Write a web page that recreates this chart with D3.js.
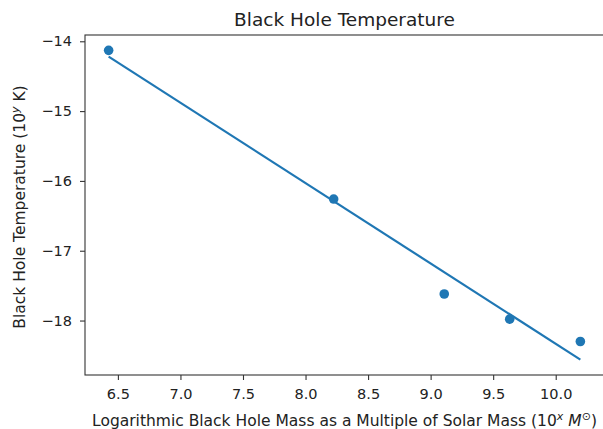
<!DOCTYPE html>
<html>
<head>
<meta charset="utf-8">
<script src="https://cdn.jsdelivr.net/npm/d3@7"></script>
<style>
  body { margin: 0; background: #fff; }
  svg { font-family: "DejaVu Sans", sans-serif; }
</style>
</head>
<body>
<div id="chart"></div>
<script>
// measured points
const massLog = [6.426, 8.225, 9.109, 9.632, 10.197];
const tempLog = [-14.13, -16.26, -17.62, -17.98, -18.30];
// fitted line, read at its two ends
const fitX = [6.426, 10.197];
const fitY = [-14.22, -18.56];
const xTicks = [6.5, 7.0, 7.5, 8.0, 8.5, 9.0, 9.5, 10.0];
const yTicks = [-14, -15, -16, -17, -18];

const width = 603, height = 429;
const blue = "#1f77b4";
const plotL = 85, plotR = 604, plotT = 35, plotB = 375;

const svg = d3.select("#chart")
  .append("svg")
  .attr("width", width)
  .attr("height", height);

const x = d3.scaleLinear().domain([6.237, 10.386]).range([plotL, plotR]);
const y = d3.scaleLinear().domain([-18.78, -13.91]).range([plotB, plotT]);

const fmtX = d => d.toFixed(1);
const fmtY = d => "\u2212" + Math.abs(d);

const xAxis = svg.append("g")
  .attr("transform", `translate(0,${plotB})`)
  .call(d3.axisBottom(x).tickValues(xTicks).tickFormat(fmtX).tickSizeOuter(0).tickSize(5).tickPadding(9));
const yAxis = svg.append("g")
  .attr("transform", `translate(${plotL},0)`)
  .call(d3.axisLeft(y).tickValues(yTicks).tickFormat(fmtY).tickSizeOuter(0).tickSize(5).tickPadding(8));

[xAxis, yAxis].forEach(g => {
  g.select(".domain").remove();
  g.selectAll("line").attr("stroke", "#333").attr("stroke-width", 1.1);
  g.selectAll("text")
    .attr("fill", "#222")
    .style("font-size", "14.5px")
    .style("font-family", "DejaVu Sans");
});

// frame (right side falls off the canvas, as in the original)
svg.append("rect")
  .attr("x", plotL).attr("y", plotT)
  .attr("width", plotR + 3 - plotL).attr("height", plotB - plotT)
  .attr("fill", "none")
  .attr("stroke", "#333")
  .attr("stroke-width", 1.1);

// fit line
const line = d3.line().x(d => x(d[0])).y(d => y(d[1]));
svg.append("path")
  .datum(d3.zip(fitX, fitY))
  .attr("d", line)
  .attr("fill", "none")
  .attr("stroke", blue)
  .attr("stroke-width", 2.2);

// points
svg.selectAll("circle.pt")
  .data(d3.zip(massLog, tempLog))
  .enter()
  .append("circle")
  .attr("class", "pt")
  .attr("cx", d => x(d[0]))
  .attr("cy", d => y(d[1]))
  .attr("r", 4.8)
  .attr("fill", blue);

// title
svg.append("text")
  .attr("x", (plotL + plotR) / 2)
  .attr("y", 26)
  .attr("text-anchor", "middle")
  .attr("fill", "#222")
  .style("font-size", "18.5px")
  .text("Black Hole Temperature");

// x label
const xl = svg.append("text")
  .attr("x", (plotL + plotR) / 2)
  .attr("y", 426)
  .attr("text-anchor", "middle")
  .attr("fill", "#222")
  .style("font-size", "15.5px");
xl.append("tspan").text("Logarithmic Black Hole Mass as a Multiple of Solar Mass (10");
xl.append("tspan").attr("dy", -6).style("font-size", "11px").style("font-style", "italic").text("x");
xl.append("tspan").attr("dy", 6).text(" ");
xl.append("tspan").style("font-style", "italic").text("M");
xl.append("tspan").attr("dy", -6).style("font-size", "11px").text("\u2299");
xl.append("tspan").attr("dy", 6).text(")");

// y label
const yl = svg.append("text")
  .attr("transform", `translate(25,${(plotT + plotB) / 2 + 2}) rotate(-90)`)
  .attr("text-anchor", "middle")
  .attr("fill", "#222")
  .style("font-size", "15.5px");
yl.append("tspan").text("Black Hole Temperature (10");
yl.append("tspan").attr("dy", -6).style("font-size", "11px").style("font-style", "italic").text("y");
yl.append("tspan").attr("dy", 6).text(" K)");
</script>
</body>
</html>
